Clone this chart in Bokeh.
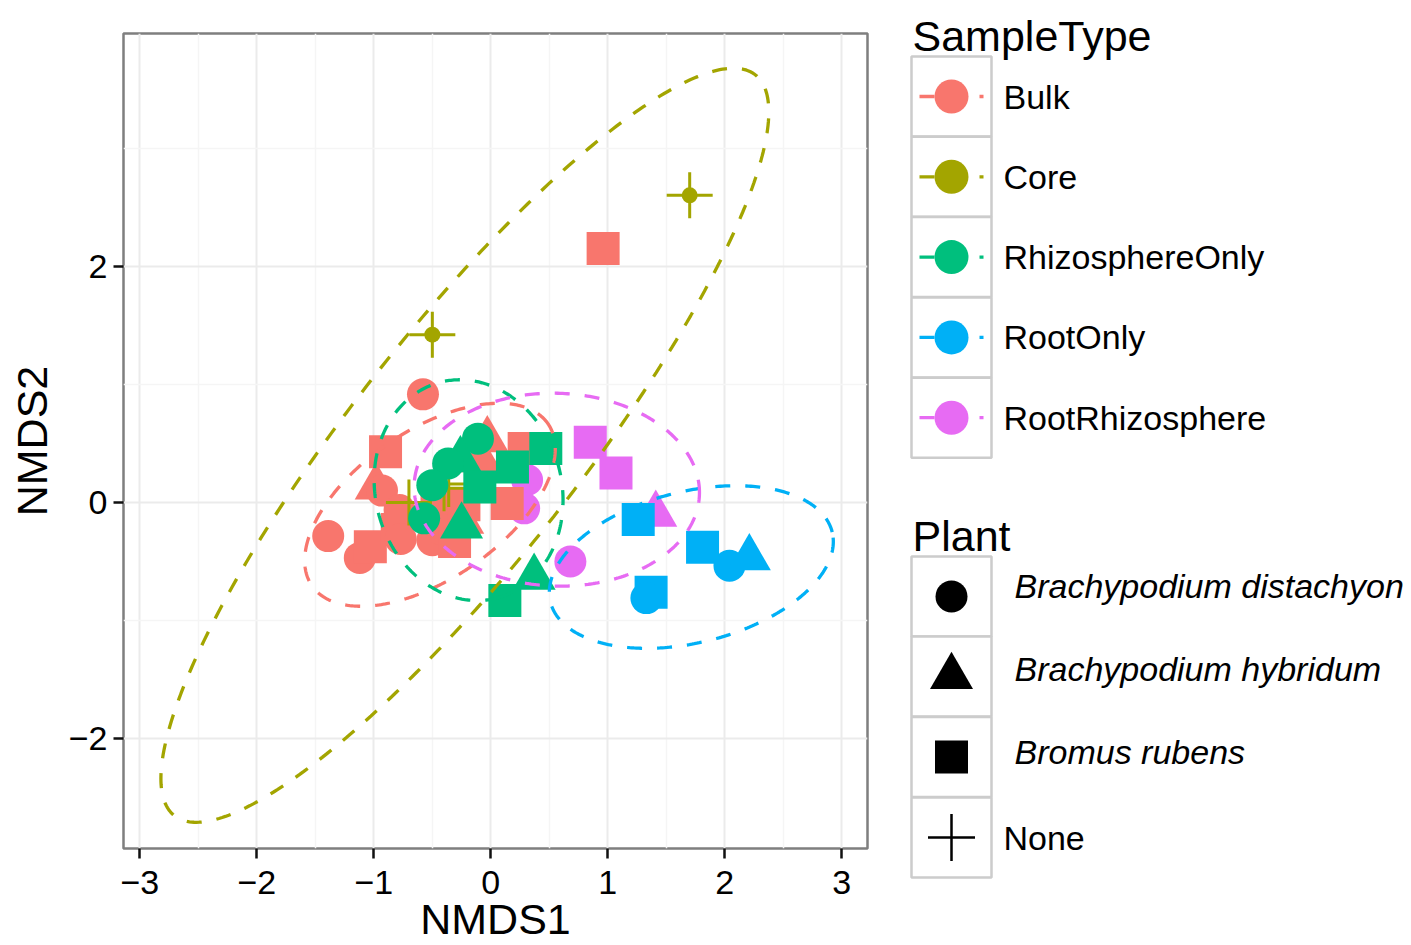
import numpy as np
from bokeh.plotting import figure
from bokeh.layouts import row
from bokeh.models import Range1d, FixedTicker, ColumnDataSource
from bokeh.core.properties import value
from bokeh.embed import file_html
from bokeh.resources import INLINE

FONT = "Liberation Sans"

# ---------------- data ----------------
sample_types = ["Bulk", "Core", "RhizosphereOnly", "RootOnly", "RootRhizosphere"]
type_colors = ["#F8766D", "#A3A500", "#00BF7D", "#00B0F6", "#E76BF3"]
plants = ["Brachypodium distachyon", "Brachypodium hybridum", "Bromus rubens", "None"]
plant_markers = ["circle", "triangle", "square", "cross"]
plant_sizes = [32, 43, 33, 46]

# plant code: 0 distachyon, 1 hybridum, 2 rubens, 3 None
bulk_x = [-0.58, 0.96, -0.90, -0.98, -0.93, -0.03, 0.285, -0.085, 0.14, -1.39, -1.12,
          -1.03, -0.78, -0.80, -0.77, -0.46, -0.50, -0.44, -0.31, -0.24, -0.23]
bulk_y = [0.915, 2.15, 0.43, 0.13, 0.10, 0.53, 0.457, 0.36, -0.01, -0.285, -0.47,
          -0.375, -0.065, -0.23, -0.31, -0.01, -0.32, -0.22, -0.33, -0.16, -0.02]
bulk_plant = [0, 2, 2, 1, 0, 1, 2, 1, 2, 0, 0,
              2, 0, 2, 0, 2, 0, 0, 2, 1, 2]

core_x = [1.70, -0.50, -0.70, -0.40, -0.36]
core_y = [2.60, 1.42, 0.00, 0.12, 0.155]
core_plant = [3, 3, 3, 3, 3]
core_dot = [1, 1, 0, 0, 0]

rhizo_x = [-0.11, -0.26, -0.365, -0.50, -0.094, 0.185, 0.47, -0.57, -0.25, 0.37, 0.12]
rhizo_y = [0.54, 0.36, 0.33, 0.146, 0.13, 0.30, 0.457, -0.135, -0.20, -0.635, -0.83]
rhizo_plant = [0, 1, 0, 0, 2, 2, 2, 0, 1, 1, 2]

root_x = [1.26, 1.81, 2.04, 2.21, 1.37, 1.33]
root_y = [-0.145, -0.38, -0.536, -0.47, -0.76, -0.81]
root_plant = [2, 2, 0, 1, 2, 0]

rootrhizo_x = [0.31, 0.285, 0.68, 0.85, 1.07, 1.41]
rootrhizo_y = [0.19, -0.05, -0.50, 0.51, 0.25, -0.10]
rootrhizo_plant = [0, 0, 0, 2, 2, 1]

# 95% ellipses per sample type: centre, semi-axes, rotation (degrees)
ell_cx = [-0.52, -0.222, -0.19, 1.714, 0.564]
ell_cy = [-0.02, 0.484, 0.104, -0.547, 0.108]
ell_a = [1.22, 4.0, 0.945, 1.24, 1.22]
ell_b = [0.63, 0.97, 0.795, 0.64, 0.816]
ell_angle = [34.0, 51.6, -74.0, 13.8, -2.0]

x_ticks = [-3, -2, -1, 0, 1, 2, 3]
x_minor = [-2.5, -1.5, -0.5, 0.5, 1.5, 2.5]
y_ticks = [-2, 0, 2]
y_minor = [-1, 1, 3]
x_lim = (-3.14, 3.22)
y_lim = (-2.93, 3.97)
x_title = "NMDS1"
y_title = "NMDS2"

# ---------------- main plot ----------------
p = figure(width=890, height=945, x_range=Range1d(*x_lim), y_range=Range1d(*y_lim),
           output_backend="svg", toolbar_location=None,
           min_border_left=123, min_border_right=23, min_border_top=33, min_border_bottom=97)
p.background_fill_color = "white"
p.border_fill_color = "white"
p.outline_line_color = "#7F7F7F"
p.outline_line_width = 2.5

p.xaxis.ticker = FixedTicker(ticks=x_ticks, minor_ticks=x_minor)
p.yaxis.ticker = FixedTicker(ticks=y_ticks, minor_ticks=y_minor)
p.xaxis.major_label_overrides = {t: (str(t).replace("-", "\u2212")) for t in x_ticks}
p.yaxis.major_label_overrides = {t: (str(t).replace("-", "\u2212")) for t in y_ticks}

for ax in (p.xaxis, p.yaxis):
    ax.axis_line_color = None
    ax.major_tick_in = 0
    ax.major_tick_out = 10
    ax.major_tick_line_width = 2.5
    ax.major_tick_line_color = "#111111"
    ax.minor_tick_line_color = None
    ax.major_label_text_font = FONT
    ax.major_label_text_font_size = "34px"
    ax.major_label_text_color = "black"
    ax.axis_label_text_font = FONT
    ax.axis_label_text_font_size = "43px"
    ax.axis_label_text_font_style = "normal"
    ax.axis_label_text_color = "black"
p.xaxis.major_label_standoff = 12
p.yaxis.major_label_standoff = 6
p.yaxis.axis_label = y_title
p.yaxis.axis_label_standoff = 10
p.yaxis.major_label_orientation = "horizontal"

# x-axis title below the tick labels, centred under the panel (drawn unclipped)
px_per_y = 815 / (y_lim[1] - y_lim[0])
p.text(x=[(x_lim[0] + x_lim[1]) / 2], y=[y_lim[0] - 70 / px_per_y], text=[x_title],
       text_font=value(FONT), text_font_size="43px", text_color="black",
       text_align="center", text_baseline="middle", level="overlay")

for g in (p.xgrid, p.ygrid):
    g.grid_line_color = "#EBEBEB"
    g.grid_line_width = 2
    g.minor_grid_line_color = "#F5F5F5"
    g.minor_grid_line_width = 1.5


def group_source(xs, ys, codes):
    return ColumnDataSource(dict(
        x=xs, y=ys,
        marker=[plant_markers[c] for c in codes],
        size=[plant_sizes[c] for c in codes],
    ))


def draw_filled(xs, ys, codes, color):
    p.scatter(x="x", y="y", marker="marker", size="size", source=group_source(xs, ys, codes),
              fill_color=color, line_color=None)


draw_filled(rootrhizo_x, rootrhizo_y, rootrhizo_plant, type_colors[4])
draw_filled(bulk_x, bulk_y, bulk_plant, type_colors[0])
# core (no plant): crosses
p.scatter(x="x", y="y", marker="marker", size="size", source=group_source(core_x, core_y, core_plant),
          line_color=type_colors[1], line_width=3)
dot_x = [x for x, d in zip(core_x, core_dot) if d]
dot_y = [y for y, d in zip(core_y, core_dot) if d]
p.scatter(x=dot_x, y=dot_y, marker="circle", size=16, fill_color=type_colors[1], line_color=None)
draw_filled(rhizo_x, rhizo_y, rhizo_plant, type_colors[2])
draw_filled(root_x, root_y, root_plant, type_colors[3])

# ellipses
t = np.linspace(0, 2 * np.pi, 361)
for i in range(len(sample_types)):
    th = np.deg2rad(ell_angle[i])
    ex = ell_cx[i] + ell_a[i] * np.cos(t) * np.cos(th) - ell_b[i] * np.sin(t) * np.sin(th)
    ey = ell_cy[i] + ell_a[i] * np.cos(t) * np.sin(th) + ell_b[i] * np.sin(t) * np.cos(th)
    p.line(ex, ey, line_color=type_colors[i], line_width=3.3, line_dash="15 15")

# ---------------- legend panel (coordinates = page pixels) ----------------
lg = figure(width=521, height=945, x_range=Range1d(890, 1411), y_range=Range1d(848, 33),
            output_backend="svg", toolbar_location=None,
            min_border_left=0, min_border_right=0, min_border_top=33, min_border_bottom=97,
            x_axis_location=None, y_axis_location=None)
lg.grid.visible = False
lg.outline_line_color = None
lg.background_fill_color = "white"
lg.border_fill_color = "white"
LV = "overlay"

key_y1 = [96 + 80.3 * i for i in range(len(sample_types))]
lg.text(x=[912], y=[35], text=["SampleType"], text_font=value(FONT), text_font_size="43px",
        text_baseline="alphabetic", text_align="left", text_color="black", level=LV)
lg.rect(x=[951] * 5, y=key_y1, width=80, height=80, fill_color="white",
        line_color="#CCCCCC", line_width=2.5, level=LV)
lg.segment(x0=[919] * 5, x1=[983] * 5, y0=key_y1, y1=key_y1, line_color=type_colors,
           line_width=3.3, line_dash="15 15", level=LV)
lg.scatter(x=[951] * 5, y=key_y1, marker="circle", size=34, fill_color=type_colors,
           line_color=None, level=LV)
lg.text(x=[1003] * 5, y=key_y1, text=sample_types, text_font=value(FONT), text_font_size="34px",
        text_baseline="middle", text_align="left", text_color="black", level=LV)

key_y2 = [596, 676, 756.5, 837]
lg.text(x=[912], y=[535], text=["Plant"], text_font=value(FONT), text_font_size="43px",
        text_baseline="alphabetic", text_align="left", text_color="black", level=LV)
lg.rect(x=[951] * 4, y=key_y2, width=80, height=80, fill_color="white",
        line_color="#CCCCCC", line_width=2.5, level=LV)
lg.scatter(x=[951] * 3, y=key_y2[:3], marker=plant_markers[:3], size=plant_sizes[:3],
           fill_color="black", line_color=None, level=LV)
lg.scatter(x=[951], y=[key_y2[3]], marker=plant_markers[3], size=47, line_color="black",
           line_width=2.5, level=LV)
label_y2 = [585, 668, 751]
lg.text(x=[1014] * 3, y=label_y2, text=plants[:3], text_font=value(FONT), text_font_size="34px",
        text_font_style="italic", text_baseline="middle", text_align="left", text_color="black",
        level=LV)
lg.text(x=[1003], y=[key_y2[3]], text=[plants[3]], text_font=value(FONT), text_font_size="34px",
        text_baseline="middle", text_align="left", text_color="black", level=LV)

layout = row(p, lg)
open("out.html", "w").write(file_html(layout, INLINE))
